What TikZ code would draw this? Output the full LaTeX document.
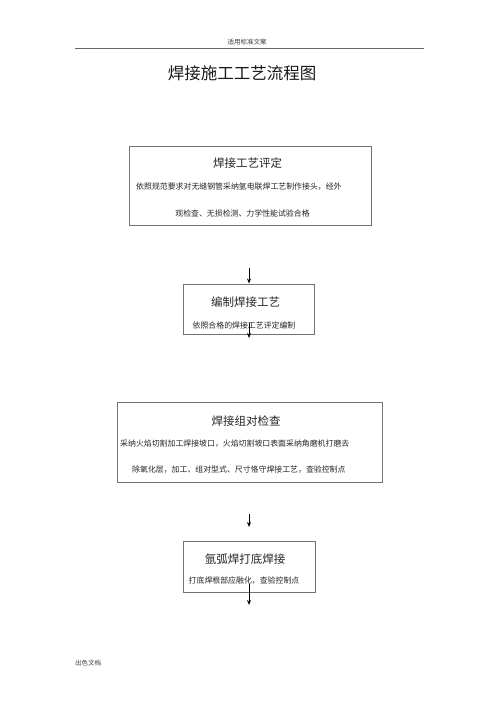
\documentclass[tikz,border=0pt]{standalone}
\usepackage{fontspec}
\setmainfont{Liberation Serif}
\newfontfamily\cjk{Noto Sans CJK SC}
\usetikzlibrary{arrows.meta}
\begin{document}
\begin{tikzpicture}[x=1pt,y=-1pt,
  boxstyle/.style={draw=black!55,line width=1pt,inner sep=0pt},
  ttl/.style={font=\cjk\fontsize{11.5}{11.5}\selectfont,text=black!85,inner sep=0pt},
  bodytxt/.style={font=\cjk\fontsize{7.9}{7.9}\selectfont,text=black!85,inner sep=0pt},
  arr/.style={-{Stealth[length=5pt,width=4pt]},line width=1pt,black}]
\useasboundingbox (0,0) rectangle (500,708);
\fill[white] (0,0) rectangle (500,708);
% header
\node[font=\cjk\fontsize{6.5}{6.5}\selectfont,text=black!75,inner sep=0pt] (hdr) at (247,42) {适用标准文案};
\coordinate (hl) at (75,48);
\coordinate (hr) at (424,48);
\draw[black!60,line width=0.8pt] (hl) -- (hr);
\node[font=\cjk\fontsize{16.5}{16.5}\selectfont,text=black!90,inner sep=0pt] (title) at (242,73) {焊接施工工艺流程图};
% box 1
\node[boxstyle,minimum width=242pt,minimum height=79pt] (b1) at (250,186.5) {};
\node[ttl] (b1t) at (247.5,163) {焊接工艺评定};
\node[bodytxt,anchor=west] (b1a) at (136,187) {依照规范要求对无缝钢管采纳氩电联焊工艺制作接头，经外};
\node[bodytxt] (b1b) at (242.5,213) {观检查、无损检测、力学性能试验合格};
% arrow 1
\coordinate (a1s) at (249,268);
\node[boxstyle,minimum width=131pt,minimum height=50pt] (b2) at (248.5,309) {};
\draw[arr] (a1s) -- (b2.north -| a1s);
\node[ttl] (b2t) at (245.5,302) {编制焊接工艺};
\node[bodytxt] (b2a) at (244,325) {依照合格的焊接工艺评定编制};
\coordinate (a2s) at (249,323);
\coordinate (a2e) at (249,338);
\draw[arr] (a2s) -- (a2e);
% box 3
\node[boxstyle,minimum width=265pt,minimum height=80pt] (b3) at (249.5,442) {};
\node[ttl] (b3t) at (246,421) {焊接组对检查};
\node[bodytxt,anchor=west] (b3a) at (120,444) {采纳火焰切割加工焊接坡口，火焰切割坡口表面采纳角磨机打磨去};
\node[bodytxt,anchor=west] (b3b) at (132,470) {除氧化层，加工、组对型式、尺寸恪守焊接工艺，查验控制点};
% arrow 3
\coordinate (a3s) at (249,514);
\coordinate (a3e) at (249,527);
\draw[arr] (a3s) -- (a3e);
% box 4
\node[boxstyle,minimum width=132pt,minimum height=51pt] (b4) at (249,566.5) {};
\node[ttl] (b4t) at (245,559) {氩弧焊打底焊接};
\node[bodytxt] (b4a) at (244,581) {打底焊根部应融化，查验控制点};
\coordinate (a4s) at (249,584);
\coordinate (a4e) at (249,605);
\draw[arr] (a4s) -- (a4e);
% footer
\node[font=\cjk\fontsize{6.5}{6.5}\selectfont,text=black!75,inner sep=0pt,anchor=west] (ftr) at (75,663) {出色文档};
\end{tikzpicture}
\end{document}
